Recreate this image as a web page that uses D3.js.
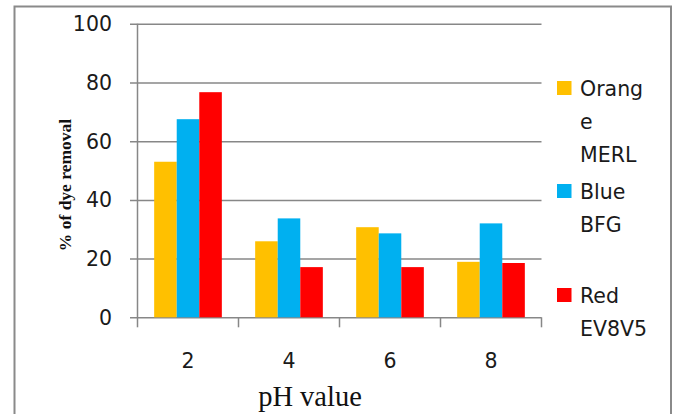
<!DOCTYPE html>
<html>
<head>
<meta charset="utf-8">
<script src="https://cdn.jsdelivr.net/npm/d3@7"></script>
<style>
  html, body { margin: 0; padding: 0; background: #fff; }
  svg { display: block; }
</style>
</head>
<body>
<svg id="chart" width="680" height="414"></svg>
<script>
// pH values on the x axis
const categories = ["2", "4", "6", "8"];
// % of dye removal for each dye
const orangeMERL = [53.0, 25.9, 30.7, 18.9];
const blueBFG = [67.5, 33.7, 28.6, 32.0];
const redEV8V5 = [76.7, 17.1, 17.1, 18.5];
// legend entries, wrapped as in the legend box
const seriesNames = ["Orange MERL", "Blue BFG", "Red EV8V5"];
const legendLines = [["Orang", "e", "MERL"], ["Blue", "BFG"], ["Red", "EV8V5"]];
const seriesColors = ["#FFC000", "#00B0F0", "#FF0000"];
const yTicks = [0, 20, 40, 60, 80, 100];

(function () {
  const series = [orangeMERL, blueBFG, redEV8V5];

  const svg = d3.select("#chart");
  const sans = "'DejaVu Sans', sans-serif";
  const serif = "'Liberation Serif', 'Times New Roman', serif";
  const gridColor = "#878787";

  // outer frame
  svg.append("rect")
    .attr("x", 14.5).attr("y", 6.5)
    .attr("width", 656.5).attr("height", 420)
    .attr("fill", "none").attr("stroke", "#8a8a8a").attr("stroke-width", 2);

  const plotLeft = 137.5, plotRight = 541.5, plotTop = 23.8, plotBottom = 317.3;

  const y = d3.scaleLinear().domain([0, 100]).range([plotBottom, plotTop]);
  const x = d3.scaleBand().domain(categories).range([plotLeft, plotRight])
    .paddingInner(0.33).paddingOuter(0.165);
  const xs = d3.scaleBand().domain(d3.range(series.length)).range([0, x.bandwidth()]);

  // horizontal gridlines with small ticks on the left
  const yAxis = d3.axisLeft(y).tickValues(yTicks)
    .tickSize(-(plotRight - plotLeft)).tickSizeOuter(0).tickPadding(0).tickFormat("");
  const gy = svg.append("g").attr("transform", `translate(${plotLeft},0)`).call(yAxis);
  gy.select(".domain").remove();
  gy.selectAll(".tick line")
    .attr("x1", -7.5)
    .attr("stroke", gridColor).attr("stroke-width", 1.5);

  // y tick labels
  svg.append("g").selectAll("text").data(yTicks).join("text")
    .attr("x", 112).attr("y", d => y(d) + 7.5)
    .attr("text-anchor", "end")
    .attr("font-family", sans).attr("font-size", 20.5).attr("fill", "#1a1a1a")
    .text(d => d);

  // vertical axis line
  svg.append("line")
    .attr("x1", plotLeft).attr("x2", plotLeft).attr("y1", plotTop).attr("y2", plotBottom)
    .attr("stroke", gridColor).attr("stroke-width", 1.5);

  // bars
  const groups = svg.append("g").selectAll("g").data(categories).join("g")
    .attr("transform", c => `translate(${x(c)},0)`);
  groups.selectAll("rect")
    .data((c, i) => series.map((s, k) => ({ k, v: s[i] })))
    .join("rect")
    .attr("x", d => xs(d.k))
    .attr("width", xs.bandwidth())
    .attr("y", d => y(d.v))
    .attr("height", d => y(0) - y(d.v))
    .attr("fill", d => seriesColors[d.k]);

  // category boundary ticks below the baseline
  const edges = d3.range(categories.length + 1).map(i => plotLeft + i * x.step());
  svg.append("g").selectAll("line").data(edges).join("line")
    .attr("x1", d => d).attr("x2", d => d)
    .attr("y1", plotBottom).attr("y2", plotBottom + 10)
    .attr("stroke", gridColor).attr("stroke-width", 1.5);

  // x tick labels
  svg.append("g").selectAll("text").data(categories).join("text")
    .attr("x", c => x(c) + x.bandwidth() / 2)
    .attr("y", 368)
    .attr("text-anchor", "middle")
    .attr("font-family", sans).attr("font-size", 20.5).attr("fill", "#1a1a1a")
    .text(c => c);

  // axis titles
  svg.append("text")
    .attr("x", 310).attr("y", 406)
    .attr("text-anchor", "middle")
    .attr("font-family", serif).attr("font-size", 28.5).attr("fill", "#111")
    .text("pH value");

  svg.append("text")
    .attr("transform", "translate(71,185) rotate(-90)")
    .attr("text-anchor", "middle")
    .attr("font-family", serif).attr("font-weight", "bold")
    .attr("font-size", 17.5).attr("fill", "#111")
    .text("% of dye removal");

  // legend
  const legendTops = [81, 184, 288];
  const legend = svg.append("g").selectAll("g").data(seriesNames).join("g")
    .attr("transform", (d, i) => `translate(557,${legendTops[i]})`);
  legend.append("rect")
    .attr("width", 14.5).attr("height", 14)
    .attr("fill", (d, i) => seriesColors[i]);
  legend.append("text")
    .attr("font-family", sans).attr("font-size", 20.5).attr("fill", "#1a1a1a")
    .selectAll("tspan")
    .data((d, i) => legendLines[i])
    .join("tspan")
    .attr("x", 23)
    .attr("y", (d, j) => 15 + j * 33)
    .text(d => d);
})();
</script>
</body>
</html>
